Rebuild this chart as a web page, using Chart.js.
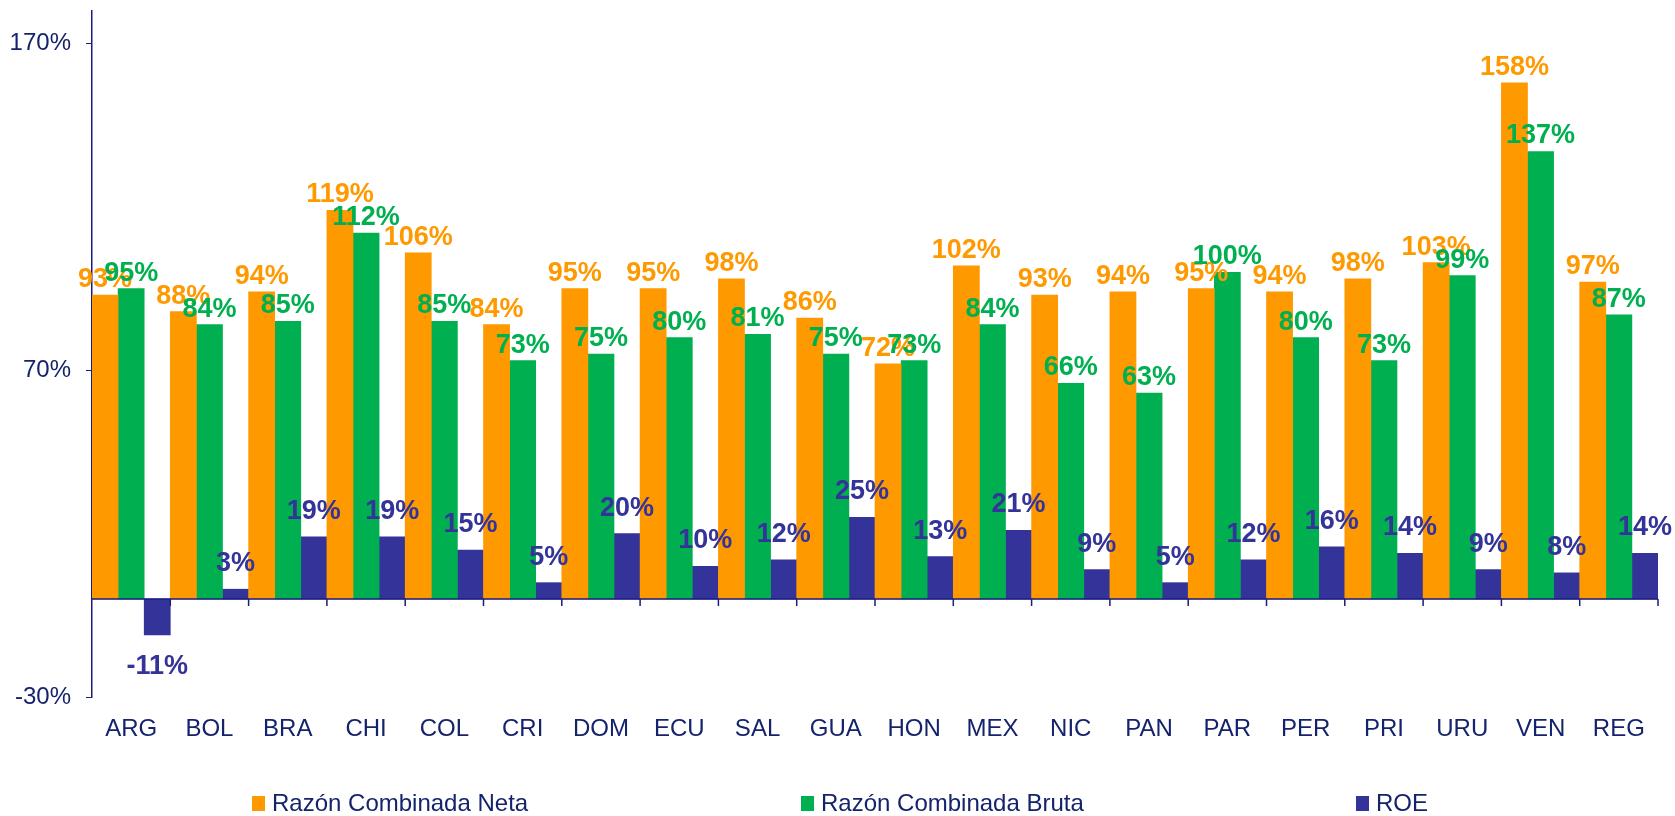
<!DOCTYPE html>
<html lang="es">
<head>
    <meta charset="UTF-8">
    <title>Razón Combinada y ROE</title>
    <script src="https://cdn.jsdelivr.net/npm/chart.js"></script>
    <style>
        body {
            margin: 0;
            background: #fff;
            font-family: Arial, "Liberation Sans", sans-serif;
        }
        .wrap {
            position: relative;
            width: 1675px;
            height: 816px;
        }
        #legend .item {
            position: absolute;
            top: 789px;
            display: flex;
            align-items: center;
            font-size: 24px;
            color: #14236b;
            white-space: nowrap;
        }
        #legend .box {
            width: 13px;
            height: 15px;
            margin-right: 7px;
        }
    </style>
</head>
<body>
<div class="wrap">
    <canvas id="chart" width="1675" height="816"></canvas>
    <div id="legend"></div>
</div>

<script>
    const paises = ["ARG", "BOL", "BRA", "CHI", "COL", "CRI", "DOM", "ECU", "SAL", "GUA",
                    "HON", "MEX", "NIC", "PAN", "PAR", "PER", "PRI", "URU", "VEN", "REG"];
    const razonNeta  = [93, 88, 94, 119, 106, 84, 95, 95, 98, 86, 72, 102, 93, 94, 95, 94, 98, 103, 158, 97];
    const razonBruta = [95, 84, 85, 112, 85, 73, 75, 80, 81, 75, 73, 84, 66, 63, 100, 80, 73, 99, 137, 87];
    const roe        = [-11, 3, 19, 19, 15, 5, 20, 10, 12, 25, 13, 21, 9, 5, 12, 16, 14, 9, 8, 14];
    const yTicks = [-30, 70, 170];

    const navy = "#14236b";
    const axisColor = "#1b1b80";
    const legendLeft = [252, 801, 1356];   // x of each legend entry
    const labelOffset = [8, 8, 18];        // gap between bar top and its label

    // value labels above (or below) every bar
    const valueLabels = {
        id: "valueLabels",
        afterDatasetsDraw(chart) {
            const ctx = chart.ctx;
            ctx.save();
            ctx.font = "bold 27px Arial, 'Liberation Sans', sans-serif";
            ctx.textAlign = "center";
            ctx.textBaseline = "alphabetic";
            chart.data.datasets.forEach((ds, i) => {
                const meta = chart.getDatasetMeta(i);
                ctx.fillStyle = ds.backgroundColor;
                meta.data.forEach((bar, j) => {
                    const v = ds.data[j];
                    const y = v >= 0 ? bar.y - labelOffset[i] : bar.y + 39;
                    ctx.fillText(v + "%", bar.x, y);
                });
            });
            ctx.restore();
        }
    };

    // x axis line drawn at zero with ticks between categories
    const zeroAxis = {
        id: "zeroAxis",
        afterDatasetsDraw(chart) {
            const ctx = chart.ctx;
            const x = chart.scales.x, y = chart.scales.y;
            const y0 = y.getPixelForValue(0);
            const half = (x.getPixelForValue(1) - x.getPixelForValue(0)) / 2;
            ctx.save();
            ctx.strokeStyle = axisColor;
            ctx.lineWidth = 1.5;
            ctx.beginPath();
            ctx.moveTo(chart.chartArea.left, y0);
            ctx.lineTo(chart.chartArea.right, y0);
            for (let i = 0; i < paises.length; i++) {
                const bx = x.getPixelForValue(i) + half;
                ctx.moveTo(bx, y0);
                ctx.lineTo(bx, y0 + 7);
            }
            ctx.stroke();
            ctx.restore();
        }
    };

    const chart = new Chart(document.getElementById("chart"), {
        type: "bar",
        data: {
            labels: paises,
            datasets: [
                { label: "Razón Combinada Neta", data: razonNeta, backgroundColor: "#FF9900" },
                { label: "Razón Combinada Bruta", data: razonBruta, backgroundColor: "#00B050" },
                { label: "ROE", data: roe, backgroundColor: "#333399" }
            ]
        },
        options: {
            responsive: false,
            animation: false,
            layout: { padding: { top: 11, right: 17, bottom: 76, left: 0 } },
            datasets: {
                bar: { barPercentage: 1, categoryPercentage: 1 }
            },
            plugins: {
                legend: { display: false },
                tooltip: { enabled: false }
            },
            scales: {
                x: {
                    afterFit: s => { s.height = 43; s.paddingLeft = 0; s.paddingRight = 0; },
                    grid: { display: false },
                    border: { display: false },
                    ticks: {
                        color: navy,
                        padding: 10,
                        maxRotation: 0,
                        font: { size: 24, family: "Arial, 'Liberation Sans', sans-serif" }
                    }
                },
                y: {
                    min: -30,
                    max: 180,
                    afterFit: s => { s.width = 92; s.paddingTop = 0; s.paddingBottom = 0; },
                    afterBuildTicks: s => { s.ticks = yTicks.map(v => ({ value: v })); },
                    border: { color: axisColor, width: 1.5 },
                    grid: { drawOnChartArea: false, tickLength: 6, color: axisColor },
                    ticks: {
                        color: navy,
                        padding: 15,
                        font: { size: 24, family: "Arial, 'Liberation Sans', sans-serif" },
                        callback: v => v + "%"
                    }
                }
            }
        },
        plugins: [valueLabels, zeroAxis]
    });

    // legend, spread out like the original
    const legend = document.getElementById("legend");
    chart.data.datasets.forEach((ds, i) => {
        const item = document.createElement("div");
        item.className = "item";
        item.style.left = legendLeft[i] + "px";
        item.innerHTML = '<span class="box" style="background:' + ds.backgroundColor + '"></span>' + ds.label;
        legend.appendChild(item);
    });
</script>
</body>
</html>
